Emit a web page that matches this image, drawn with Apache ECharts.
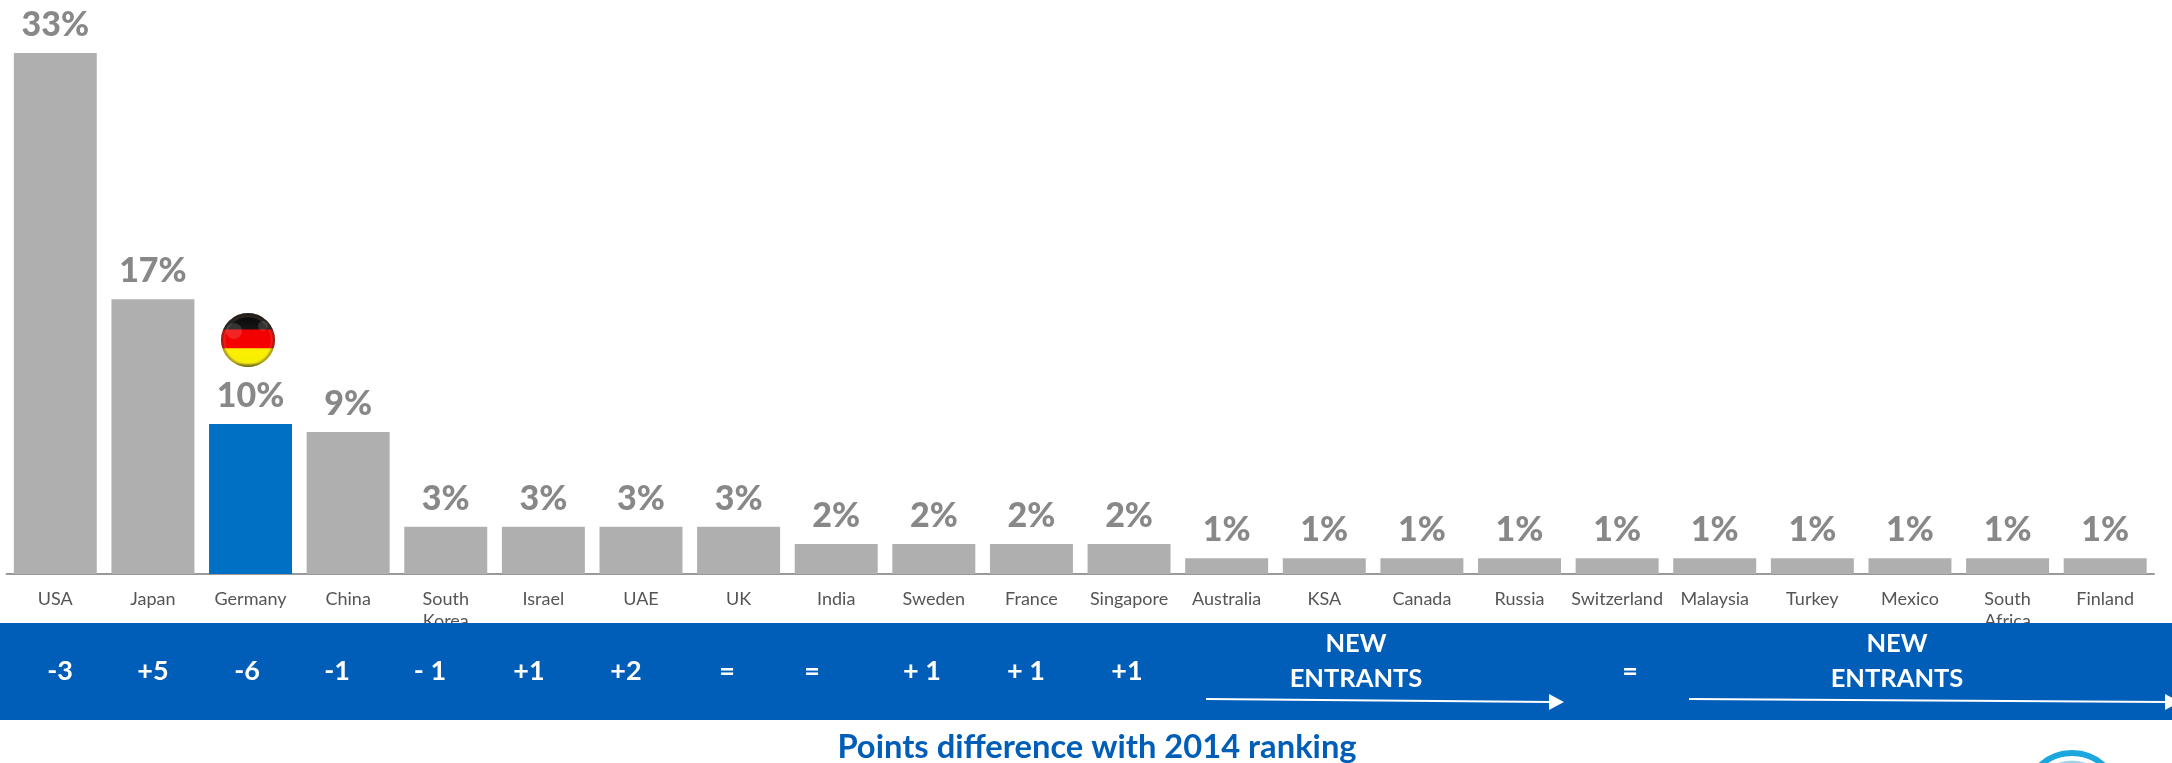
<!DOCTYPE html>
<html><head><meta charset="utf-8">
<style>html,body{margin:0;padding:0;background:#fff;overflow:hidden}#c{width:2172px;height:763px}</style>
<script src="https://cdn.jsdelivr.net/npm/echarts@6/dist/echarts.min.js"></script>
</head><body><div id="c"></div>
<script>
const categories = ['USA','Japan','Germany','China','South\nKorea','Israel','UAE','UK','India','Sweden','France','Singapore','Australia','KSA','Canada','Russia','Switzerland','Malaysia','Turkey','Mexico','South\nAfrica','Finland'];
const values = [33,17.4,9.5,9,3,3,3,3,1.9,1.9,1.9,1.9,1,1,1,1,1,1,1,1,1,1];
const highlighted = 'Germany';
const changes = ['-3','+5','-6','-1','- 1','+1','+2','=','=','+ 1','+ 1','+1','='];
const changeX = [60,153,247,337,430,529,626,727,812,922,1026,1127,1630];
const entrantsLabel = 'NEW\nENTRANTS';
const entrantsX = [1356,1897];
const footer = 'Points difference with 2014 ranking';
const FONT = 'Lato, "Open Sans", sans-serif';
const BAND = '#005EB8';

const chart = echarts.init(document.getElementById('c'), null, {renderer:'canvas'});
const white = {fill:'#fff', font:'bold 27px '+FONT, textAlign:'center', textVerticalAlign:'middle'};
const graphics = [
  {type:'rect', z:10, shape:{x:0,y:623,width:2172,height:97}, style:{fill:BAND}},
  ...changes.map((t,i)=>({type:'text', z:11, x:changeX[i], y:671, style:{...white, text:t}})),
  ...entrantsX.map(x=>({type:'text', z:11, x, y:661, style:{...white, font:'bold 25.5px '+FONT, text:entrantsLabel, lineHeight:35}})),
  {type:'line', z:11, shape:{x1:1206,y1:699,x2:1552,y2:702}, style:{stroke:'#fff',lineWidth:2}},
  {type:'polygon', z:11, shape:{points:[[1549,694],[1564,702],[1549,710]]}, style:{fill:'#fff'}},
  {type:'line', z:11, shape:{x1:1689,y1:699,x2:2166,y2:702}, style:{stroke:'#fff',lineWidth:2}},
  {type:'polygon', z:11, shape:{points:[[2165,694],[2180,702],[2165,710]]}, style:{fill:'#fff'}},
  {type:'text', z:11, x:1097, y:747, style:{text:footer, fill:BAND, font:'bold 32.7px '+FONT, textAlign:'center', textVerticalAlign:'middle'}},
  // Germany flag ball
  {type:'circle', z:12, shape:{cx:248,cy:340,r:27}, style:{fill:new echarts.graphic.LinearGradient(0,0,0,1,[
    {offset:0,color:'#060606'},{offset:.3,color:'#161616'},{offset:.31,color:'#f00000'},{offset:.65,color:'#f80000'},{offset:.66,color:'#ffee00'},{offset:.92,color:'#f6f000'},{offset:1,color:'#8c8a00'}])}},
  {type:'circle', z:13, shape:{cx:248,cy:340,r:27}, style:{fill:new echarts.graphic.RadialGradient(.5,.5,.5,[
    {offset:0,color:'rgba(255,255,255,0)'},{offset:.82,color:'rgba(255,255,255,0)'},{offset:.93,color:'rgba(90,60,40,.35)'},{offset:1,color:'rgba(60,60,60,.55)'}])}},
  {type:'circle', z:13, shape:{cx:234,cy:331,r:8}, style:{fill:'rgba(255,255,255,.14)'}},
  {type:'circle', z:13, shape:{cx:263,cy:326,r:5}, style:{fill:'rgba(255,255,255,.14)'}},
  // logo fragment at the lower edge
  {type:'circle', z:5, shape:{cx:2072,cy:800,r:47}, style:{fill:'none',stroke:'#1ba6dd',lineWidth:6}},
  {type:'circle', z:5, shape:{cx:2072,cy:800,r:38}, style:{fill:'none',stroke:'#9fd6ee',lineWidth:3}}
];

chart.setOption({
  animation:false,
  backgroundColor:'#fff',
  grid:{left:6.5,right:18,top:53,bottom:189},
  xAxis:{type:'category',data:categories,
    axisLine:{lineStyle:{color:'#999',width:2}},axisTick:{show:false},
    axisLabel:{interval:0,color:'#555',fontFamily:FONT,fontSize:18,margin:14,lineHeight:22,verticalAlign:'top'}},
  yAxis:{type:'value',min:0,max:33,show:false,splitLine:{show:false}},
  series:[{type:'bar',barWidth:'85%',
    data:values.map((v,i)=>({value:v,itemStyle:{color:categories[i]===highlighted?'#0070C4':'#AFAFAF'}})),
    label:{show:true,position:'top',distance:11,color:'#888',fontFamily:FONT,fontWeight:900,fontSize:34,
      formatter:p=>Math.round(p.value)+'%'}}],
  graphic:graphics
});
</script></body></html>
